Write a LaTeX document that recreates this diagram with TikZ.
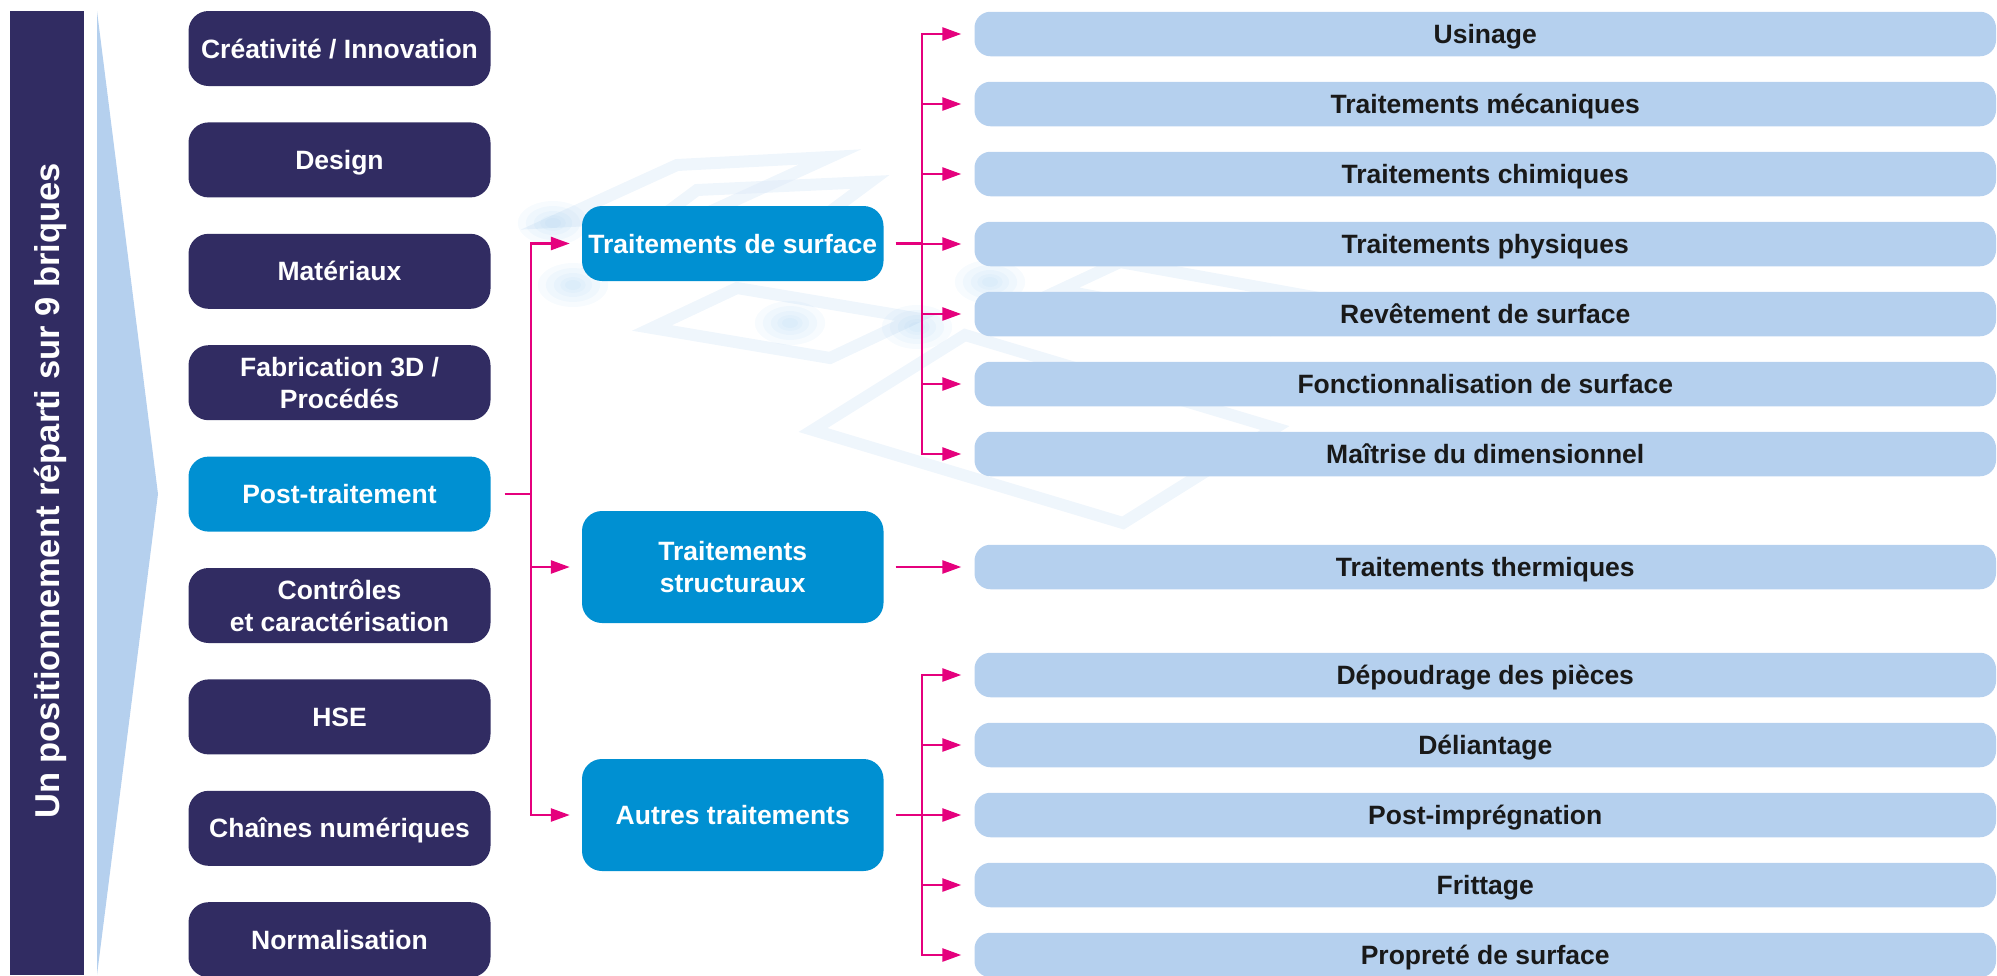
\documentclass[tikz,border=0pt]{standalone}
\usepackage{fontspec}
\setmainfont{Liberation Sans}
\usetikzlibrary{arrows.meta}
\definecolor{navy}{HTML}{312C62}
\definecolor{cyanb}{HTML}{0090D2}
\definecolor{lightb}{HTML}{B5D0EE}
\definecolor{magentab}{HTML}{E5007D}
\definecolor{patc}{HTML}{DCEAF8}
\definecolor{glowc}{HTML}{8EC4EE}
\begin{document}
\begin{tikzpicture}[x=1pt,y=-1pt,
  base/.style={inner sep=0pt, align=center, font=\bfseries\fontsize{26.5}{32}\selectfont},
  one/.style={text height=19pt, text depth=0pt},
  leftbox/.style={base, fill=navy, text=white, rounded corners=20pt, minimum width=302pt, minimum height=75pt},
  midbox/.style={base, fill=cyanb, text=white, rounded corners=20pt, minimum width=301.5pt},
  rightbox/.style={base, one, fill=lightb, text=black!90, rounded corners=16pt, minimum width=1021.5pt, minimum height=44.5pt},
  conn/.style={draw=magentab, line width=2.6pt},
  arr/.style={conn, -{Triangle[length=19pt,width=13pt]}},
  pat/.style={draw=patc, line width=12pt, opacity=0.45, line join=miter}
]
\useasboundingbox (0,0) rectangle (1997,975);
% faint background pattern
\draw[pat] (552,222) -- (677,165) -- (830,157) -- (705,214) -- cycle;
\draw[pat] (600,262) -- (697,190) -- (870,182) -- (773,254) -- cycle;
\draw[pat] (652,328) -- (737,288) -- (915,318) -- (830,358) -- cycle;
\draw[pat] (813,430) -- (965,335) -- (1275,428) -- (1123,523) -- cycle;
\draw[pat] (1060,290) -- (1120,262) -- (1330,300) -- (1270,330) -- cycle;
\foreach \p in {(573,285),(553,223),(790,323),(917,327),(990,282)}{
  \foreach \r in {22,17,12,8,5}
    \fill[glowc, opacity=0.07] \p ellipse ({1.6*\r pt} and {\r pt});
}
% left bar and triangle
\fill[navy] (10,11) rectangle (84,975);
\fill[lightb] (97,11) -- (158,494) -- (97,975) -- cycle;
\node[inner sep=0pt, rotate=90, text height=24.7pt, text depth=0pt, text=white, font=\bfseries\fontsize{34.5}{40}\selectfont] (titre) at (47,491) {Un positionnement réparti sur 9 briques};
% left column
\node[leftbox, one] (b1) at (339.5,48.5) {Créativité / Innovation};
\node[leftbox, one] (b2) at (339.5,159.9) {Design};
\node[leftbox, one] (b3) at (339.5,271.3) {Matériaux};
\node[leftbox] (b4) at (339.5,382.7) {Fabrication 3D /\\Procédés};
\node[leftbox, one, fill=cyanb] (post) at (339.5,494.1) {Post-traitement};
\node[leftbox] (b6) at (339.5,605.5) {Contrôles\\et caractérisation};
\node[leftbox, one] (b7) at (339.5,716.9) {HSE};
\node[leftbox, one] (b8) at (339.5,828.3) {Chaînes numériques};
\node[leftbox, one] (b9) at (339.5,939.7) {Normalisation};
% middle column
\node[midbox, one, minimum height=75pt] (surf) at (732.75,243.5) {Traitements de surface};
\node[midbox, minimum height=112pt] (struct) at (732.75,567) {Traitements\\structuraux};
\node[midbox, one, minimum height=112pt] (autres) at (732.75,815) {Autres traitements};
% right column
\node[rightbox] (r1) at (1485.25,34) {Usinage};
\node[rightbox] (r2) at (1485.25,104) {Traitements mécaniques};
\node[rightbox] (r3) at (1485.25,174) {Traitements chimiques};
\node[rightbox] (r4) at (1485.25,244) {Traitements physiques};
\node[rightbox] (r5) at (1485.25,314) {Revêtement de surface};
\node[rightbox] (r6) at (1485.25,384) {Fonctionnalisation de surface};
\node[rightbox] (r7) at (1485.25,454) {Maîtrise du dimensionnel};
\node[rightbox] (t1) at (1485.25,567) {Traitements thermiques};
\node[rightbox] (a1) at (1485.25,675) {Dépoudrage des pièces};
\node[rightbox] (a2) at (1485.25,745) {Déliantage};
\node[rightbox] (a3) at (1485.25,815) {Post-imprégnation};
\node[rightbox] (a4) at (1485.25,885) {Frittage};
\node[rightbox] (a5) at (1485.25,955) {Propreté de surface};
% junctions
\coordinate (j1) at (531,494.1);
\coordinate (j2) at (922,243.5);
\coordinate (j3) at (922,815);
% connectors
\draw[conn] ([xshift=14pt]post.east) -- (j1);
\foreach \m in {surf,struct,autres}
  \draw[arr] (j1) |- ([xshift=-12pt]\m.west);
\draw[conn] ([xshift=12pt]surf.east) -- (j2);
\foreach \r in {r1,r2,r3,r4,r5,r6,r7}
  \draw[arr] (j2) |- ([xshift=-13pt]\r.west);
\draw[arr] ([xshift=12pt]struct.east) -- ([xshift=-13pt]t1.west);
\draw[conn] ([xshift=12pt]autres.east) -- (j3);
\foreach \a in {a1,a2,a3,a4,a5}
  \draw[arr] (j3) |- ([xshift=-13pt]\a.west);
\end{tikzpicture}
\end{document}
